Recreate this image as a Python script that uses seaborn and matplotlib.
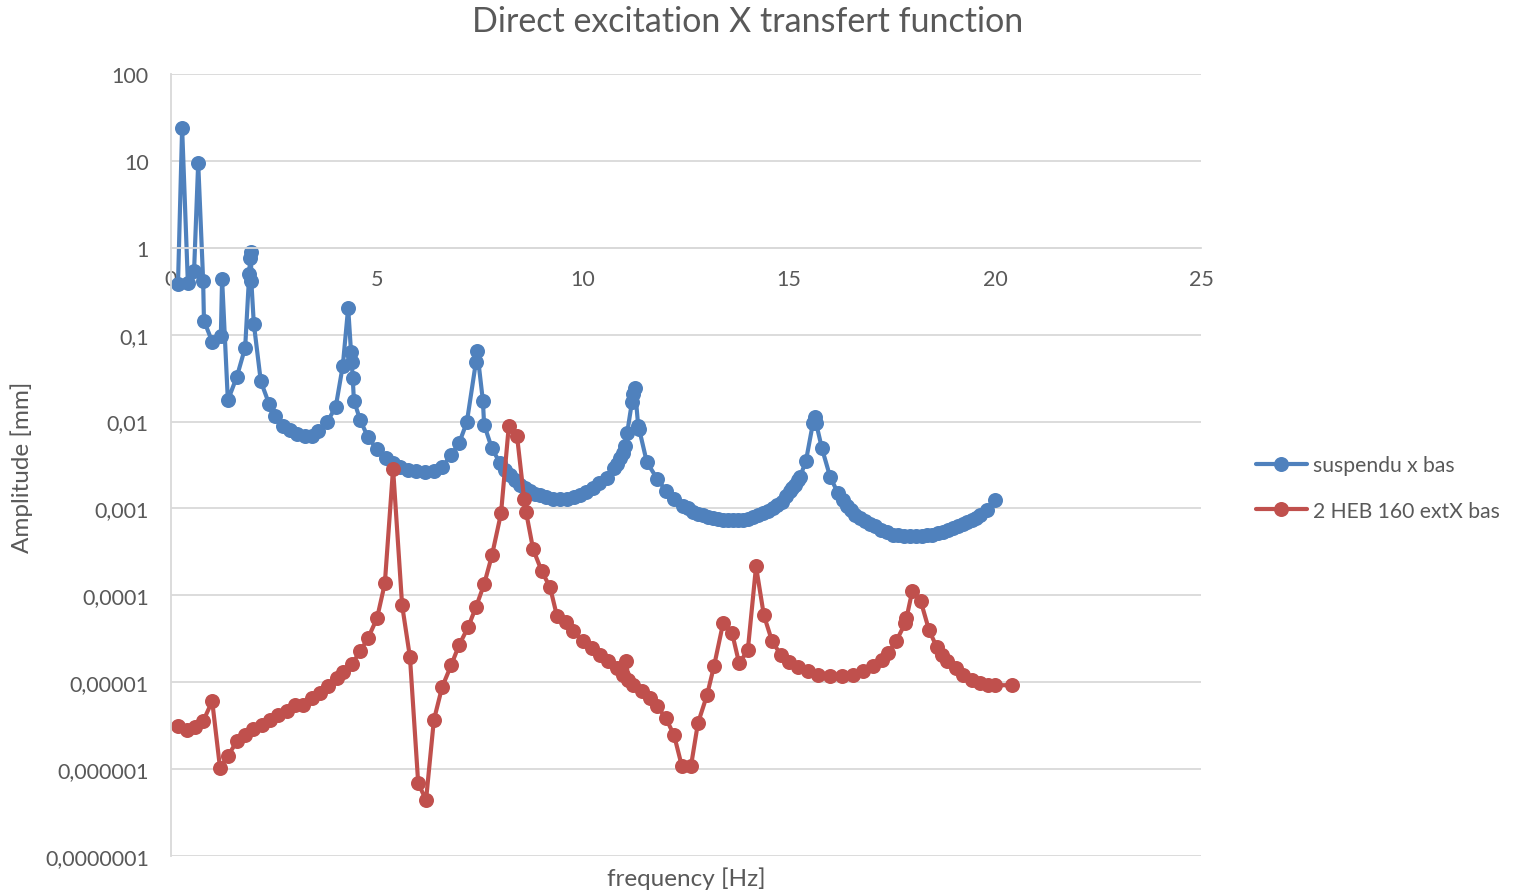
import matplotlib
matplotlib.use("Agg")
import matplotlib.pyplot as plt
import seaborn as sns
import pandas as pd
from matplotlib.lines import Line2D

# ---------------- data ----------------
title = "Direct excitation X transfert function"
x_label = "frequency [Hz]"
y_label = "Amplitude [mm]"
series_names = ["suspendu x bas", "2 HEB 160 extX bas"]

blue_freq = [0.17, 0.27, 0.41, 0.56, 0.66, 0.78, 0.80, 1.00, 1.21, 1.24, 1.38, 1.60, 1.80,
             1.90, 1.92, 1.94, 1.95, 2.01, 2.18, 2.38, 2.52, 2.72, 2.89, 3.06, 3.25, 3.42,
             3.57, 3.79, 4.00, 4.17, 4.30, 4.37, 4.39, 4.41, 4.44, 4.59, 4.78, 5.00, 5.22,
             5.39, 5.56, 5.75, 5.95, 6.17, 6.38, 6.58, 6.80, 6.99, 7.18, 7.40, 7.43, 7.57,
             7.60, 7.79, 7.99, 8.11, 8.23, 8.35, 8.47, 8.59, 8.71, 8.83, 8.96, 9.10, 9.27,
             9.44, 9.61, 9.77, 9.93, 10.08, 10.24, 10.40, 10.58, 10.75, 10.83, 10.90, 10.97,
             11.02, 11.07, 11.19, 11.22, 11.26, 11.34, 11.36, 11.55, 11.80, 12.01, 12.21,
             12.43, 12.55, 12.67, 12.79, 12.91, 13.03, 13.16, 13.28, 13.40, 13.52, 13.64,
             13.76, 13.88, 14.00, 14.13, 14.25, 14.37, 14.49, 14.61, 14.72, 14.83, 14.93,
             15.02, 15.08, 15.15, 15.21, 15.27, 15.41, 15.58, 15.63, 15.66, 15.80, 16.00,
             16.19, 16.30, 16.41, 16.50, 16.60, 16.72, 16.84, 16.96, 17.09, 17.23, 17.38,
             17.52, 17.65, 17.80, 17.94, 18.09, 18.23, 18.35, 18.47, 18.61, 18.74, 18.86,
             18.98, 19.10, 19.22, 19.33, 19.44, 19.54, 19.64, 19.81, 20.00]
blue_amp = [0.385, 23.9, 0.39, 0.54, 9.5, 0.42, 0.145, 0.083, 0.097, 0.44, 0.0175, 0.033, 0.071,
            0.50, 0.77, 0.90, 0.41, 0.134, 0.029, 0.016, 0.0117, 0.0088, 0.0079, 0.0071, 0.0069, 0.0069,
            0.0077, 0.0098, 0.0149, 0.044, 0.204, 0.064, 0.048, 0.032, 0.0174, 0.0105, 0.0066, 0.0048, 0.0038,
            0.0033, 0.0030, 0.0028, 0.00273, 0.00266, 0.00273, 0.0030, 0.0041, 0.0056, 0.0098, 0.048, 0.0655, 0.0174,
            0.0092, 0.0049, 0.0033, 0.0028, 0.0024, 0.0021, 0.00184, 0.0017, 0.00157, 0.00148, 0.00141, 0.00135, 0.0013,
            0.00128, 0.0013, 0.00134, 0.00141, 0.00153, 0.0017, 0.00195, 0.00227, 0.0029, 0.00329, 0.0038, 0.0043,
            0.0053, 0.0073, 0.017, 0.021, 0.0246, 0.0088, 0.0083, 0.0034, 0.0022, 0.0016, 0.0013,
            0.00108, 0.0010, 0.00092, 0.00087, 0.00083, 0.0008, 0.00077, 0.00075, 0.00073, 0.00073, 0.00073,
            0.00073, 0.00074, 0.00076, 0.00079, 0.00083, 0.00088, 0.00094, 0.0010, 0.0011, 0.0012, 0.0014,
            0.00157, 0.0017, 0.00184, 0.0021, 0.00233, 0.0035, 0.0095, 0.0112, 0.0095, 0.0049, 0.0023,
            0.0015, 0.00125, 0.00108, 0.00097, 0.00085, 0.00077, 0.00071, 0.00066, 0.00062, 0.00057, 0.00053,
            0.00050, 0.00049, 0.00048, 0.00048, 0.00048, 0.00048, 0.00049, 0.00050, 0.00052, 0.00053, 0.00056,
            0.00059, 0.00062, 0.00066, 0.00070, 0.00073, 0.00078, 0.00083, 0.00095, 0.00124]

red_freq = [0.17, 0.39, 0.58, 0.78, 1.00, 1.19, 1.38, 1.60, 1.80, 1.99, 2.21, 2.40, 2.60, 2.82,
            3.01, 3.20, 3.42, 3.62, 3.81, 4.03, 4.17, 4.39, 4.59, 4.78, 5.00, 5.19, 5.39, 5.61,
            5.80, 6.00, 6.19, 6.38, 6.58, 6.80, 6.99, 7.21, 7.40, 7.60, 7.79, 8.01, 8.20, 8.40,
            8.57, 8.62, 8.79, 9.00, 9.20, 9.37, 9.59, 9.76, 10.00, 10.22, 10.41, 10.61, 10.83,
            10.97, 11.05, 11.10, 11.21, 11.43, 11.63, 11.80, 12.01, 12.21, 12.40, 12.62, 12.79,
            13.01, 13.18, 13.40, 13.62, 13.79, 14.00, 14.20, 14.39, 14.59, 14.81, 15.00, 15.22,
            15.46, 15.70, 16.00, 16.29, 16.55, 16.80, 17.04, 17.26, 17.40, 17.60, 17.82, 17.85,
            17.99, 18.20, 18.40, 18.59, 18.71, 18.83, 19.05, 19.22, 19.44, 19.64, 19.83, 20.00, 20.41]
red_amp = [3.12e-6, 2.81e-6, 3.04e-6, 3.56e-6, 6.05e-6, 1.03e-6, 1.41e-6, 2.10e-6, 2.46e-6, 2.88e-6,
           3.20e-6, 3.66e-6, 4.18e-6, 4.65e-6, 5.44e-6, 5.44e-6, 6.55e-6, 7.48e-6, 9.0e-6, 1.11e-5,
           1.30e-5, 1.61e-5, 2.27e-5, 3.2e-5, 5.44e-5, 1.37e-4, 2.88e-3, 7.67e-5, 1.94e-5, 6.9e-7,
           4.4e-7, 3.66e-6, 8.77e-6, 1.57e-5, 2.66e-5, 4.29e-5, 7.28e-5, 1.34e-4, 2.88e-4, 8.77e-4,
           9.0e-3, 6.73e-3, 1.30e-3, 9.0e-4, 3.38e-4, 1.89e-4, 1.24e-4, 5.74e-5, 4.9e-5, 3.86e-5,
           2.96e-5, 2.46e-5, 2.04e-5, 1.74e-5, 1.45e-5, 1.20e-5, 1.74e-5, 1.05e-5, 9.24e-6, 7.88e-6,
           6.55e-6, 5.3e-6, 3.86e-6, 2.46e-6, 1.08e-6, 1.08e-6, 3.38e-6, 7.1e-6, 1.53e-5, 4.77e-5,
           3.66e-5, 1.65e-5, 2.33e-5, 2.15e-4, 5.89e-5, 2.96e-5, 2.04e-5, 1.70e-5, 1.49e-5, 1.34e-5,
           1.20e-5, 1.17e-5, 1.17e-5, 1.20e-5, 1.34e-5, 1.53e-5, 1.79e-5, 2.15e-5, 2.96e-5, 4.77e-5,
           5.44e-5, 1.11e-4, 8.5e-5, 3.96e-5, 2.52e-5, 2.04e-5, 1.74e-5, 1.45e-5, 1.20e-5, 1.05e-5,
           9.75e-6, 9.24e-6, 9.24e-6, 9.24e-6]

x_ticks = [0, 5, 10, 15, 20, 25]
y_ticks = [1e2, 1e1, 1e0, 1e-1, 1e-2, 1e-3, 1e-4, 1e-5, 1e-6, 1e-7]
y_tick_labels = ["100", "10", "1", "0,1", "0,01", "0,001", "0,0001", "0,00001",
                 "0,000001", "0,0000001"]
colors = ["#4F81BD", "#C0504D"]

# ---------------- plot ----------------
sns.set_theme(style="white")
plt.rcParams["font.family"] = ["Lato", "DejaVu Sans"]
text_color = "#595959"

fig = plt.figure(figsize=(15.14, 8.95), dpi=100)
ax = fig.add_axes([171 / 1514, 1 - 857 / 895, (1201 - 171) / 1514, (857 - 75) / 895])

df_blue = pd.DataFrame({"f": blue_freq, "a": blue_amp})
df_red = pd.DataFrame({"f": red_freq, "a": red_amp})

MS = 10.8
LW = 3.0
style = dict(marker="o", markersize=MS, linewidth=LW, markeredgewidth=0,
             sort=False, estimator=None)
sns.lineplot(data=df_blue, x="f", y="a", color=colors[0], ax=ax, **style)
sns.lineplot(data=df_red, x="f", y="a", color=colors[1], ax=ax, **style)

ax.set_yscale("log")
ax.set_ylim(1e-7, 1e2)
ax.set_xlim(0, 25)
ax.set_yticks(y_ticks)
ax.set_yticklabels(y_tick_labels)
ax.minorticks_off()
ax.set_xticks(x_ticks)
ax.set_xticklabels([str(t) for t in x_ticks])
ax.yaxis.grid(True, color="#d9d9d9", linewidth=1.3)
ax.xaxis.grid(False)
ax.set_axisbelow(True)

for s in ["top", "right"]:
    ax.spines[s].set_visible(False)
ax.spines["left"].set_color("#d9d9d9")
ax.spines["left"].set_linewidth(1.3)
ax.spines["bottom"].set_position(("data", 1))
ax.spines["bottom"].set_color("#d9d9d9")
ax.spines["bottom"].set_linewidth(1.3)

ax.tick_params(axis="both", length=0, labelsize=15.5, labelcolor=text_color)
ax.tick_params(axis="x", pad=15)
ax.tick_params(axis="y", pad=16)

ax.set_xlabel("")
ax.set_ylabel("")
fig.text(686 / 1514, 1 - 879 / 895, x_label, ha="center", va="center",
         fontsize=17.5, color=text_color)
fig.text(22 / 1514, 1 - 467 / 895, y_label, ha="center", va="center",
         rotation=90, fontsize=17.5, color=text_color)
fig.text(748 / 1514, 1 - 22 / 895, title, ha="center", va="center",
         fontsize=24.5, color=text_color)

handles = [Line2D([], [], color=c, marker="o", markersize=MS, linewidth=LW,
                  markeredgewidth=0) for c in colors]
leg = fig.legend(handles, series_names, loc="center left",
                 bbox_to_anchor=(1237 / 1514, 1 - 489 / 895), frameon=False,
                 fontsize=15.2, handlelength=2.4, handletextpad=0.3,
                 labelspacing=1.2, labelcolor=text_color)

fig.savefig("out.png", dpi=100)
